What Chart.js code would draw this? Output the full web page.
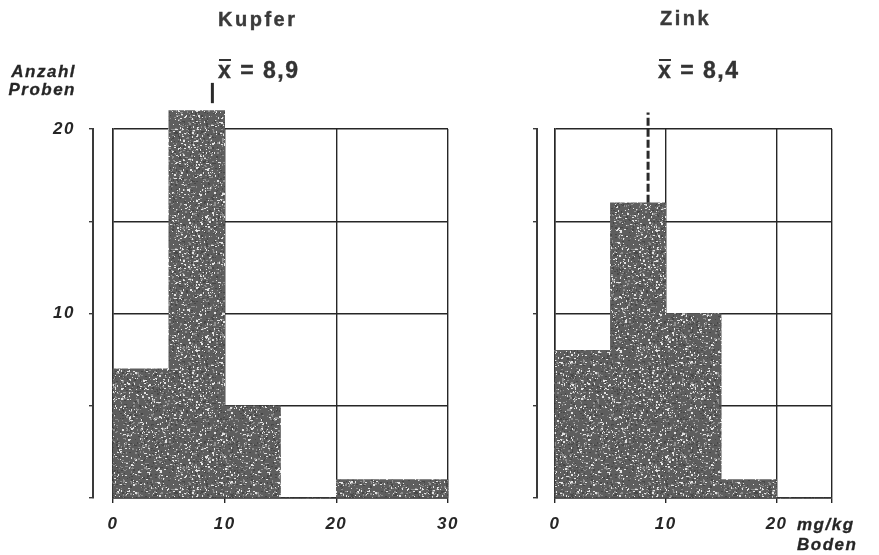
<!DOCTYPE html>
<html>
<head>
<meta charset="utf-8">
<script src="https://cdn.jsdelivr.net/npm/chart.js@4.4.1/dist/chart.umd.min.js"></script>
<style>
  body { margin: 0; width: 879px; height: 555px; background: #fff; position: relative; overflow: hidden;
         font-family: "Liberation Sans", Arial, sans-serif; color: #262626; }
  canvas { position: absolute; top: 0; }
  .lbl { position: absolute; font-weight: bold; white-space: nowrap; line-height: 1; }
  .title { font-size: 20px; letter-spacing: 2.5px; color: #3a3a3a; -webkit-text-stroke: 0.4px #3a3a3a; }
  .mean { font-size: 23px; letter-spacing: 1.5px; color: #333; -webkit-text-stroke: 0.4px #333; }
  .ital { font-style: italic; font-size: 17px; letter-spacing: 1.5px; -webkit-text-stroke: 0.3px #262626; }
  .xbar { position: relative; }
  .xbar::before { content: ""; position: absolute; left: 1px; right: 1px; top: 2px; height: 2px; background: currentColor; }
</style>
</head>
<body>
<canvas id="kupfer" width="470" height="555" style="left:0"></canvas>
<canvas id="zink" width="419" height="555" style="left:460px"></canvas>

<div class="lbl title" style="left:218px; top:9px">Kupfer</div>
<div class="lbl title" style="left:660px; top:8px">Zink</div>
<div class="lbl mean" style="left:218px; top:59px"><span class="xbar">x</span> = 8,9</div>
<div class="lbl mean" style="left:658px; top:59px"><span class="xbar">x</span> = 8,4</div>
<div class="lbl ital" style="right:803px; top:63px; text-align:right">Anzahl</div>
<div class="lbl ital" style="right:803px; top:81px; text-align:right">Proben</div>
<div class="lbl ital" style="left:797px; top:516px">mg/kg</div>
<div class="lbl ital" style="left:797px; top:536px">Boden</div>

<script>
// Klassen (Untergrenze, Breite 5 mg/kg) und Anzahl Proben je Klasse
const kupferClasses = [0, 5, 10, 15, 20, 25];
const kupferCounts = [7, 21, 5, 0, 1, 1];
const zinkClasses = [0, 5, 10, 15, 20];
const zinkCounts = [8, 16, 10, 1, 0];

// Mittelwerte
const kupferMean = 8.9;
const zinkMean = 8.4;

// Achsenteilung
const kupferXTicks = [0, 10, 20, 30];
const zinkXTicks = [0, 10, 20, 25];
const yTicks = [0, 5, 10, 15, 20];
const yLabels = [10, 20];

const classWidth = 5;
const lineColor = '#262626';
const tickFont = { family: 'Liberation Sans', size: 17, style: 'italic', weight: 'bold' };

// Raster für die Balkenfüllung (grobe Punktierung)
function speckle() {
  const c = document.createElement('canvas');
  c.width = c.height = 120;
  const g = c.getContext('2d');
  g.fillStyle = '#5e5e5e';
  g.fillRect(0, 0, 120, 120);
  let s = 11;
  const next = () => (s = (s * 16807) % 2147483647) / 2147483647;
  for (let i = 0; i < 2600; i++) {
    const x = Math.floor(next() * 120);
    const y = Math.floor(next() * 120);
    const v = next();
    g.fillStyle = v < 0.35 ? '#484848' : v < 0.7 ? '#8e8e8e' : '#e4e4e4';
    g.fillRect(x, y, next() < 0.4 ? 2 : 1, next() < 0.3 ? 2 : 1);
  }
  return g.createPattern(c, 'repeat');
}
const fill = speckle();

const spacing = {
  id: 'spacing',
  beforeDraw(chart) { chart.ctx.letterSpacing = '1.5px'; }
};

function histogram(id, classes, counts, xTicks, mean, meanFrom, meanTo, dashed, cfg) {
  return new Chart(document.getElementById(id), {
    type: 'bar',
    data: {
      datasets: [
        {
          type: 'line',
          data: [{ x: mean, y: meanFrom }, { x: mean, y: meanTo }],
          borderColor: '#2a2a2a',
          borderWidth: 3,
          borderDash: dashed ? [8, 3] : [],
          pointRadius: 0,
          clip: false,
          order: 0
        },
        {
          data: classes.map((c, i) => ({ x: c + classWidth / 2, y: counts[i] })),
          backgroundColor: fill,
          borderWidth: 0,
          barPercentage: 1,
          categoryPercentage: 1,
          clip: false,
          order: 1
        }
      ]
    },
    options: {
      responsive: false,
      animation: false,
      events: [],
      layout: { padding: { top: 129, right: cfg.right, bottom: 17, left: 0 } },
      plugins: { legend: { display: false }, tooltip: { enabled: false } },
      scales: {
        x: {
          type: 'linear',
          min: 0,
          max: xTicks[xTicks.length - 1],
          offset: false,
          afterBuildTicks: s => { s.ticks = xTicks.map(v => ({ value: v })); },
          afterFit: s => { s.height = 40; },
          ticks: {
            autoSkip: false, maxRotation: 0, padding: 11, color: '#262626', font: tickFont,
            callback: v => (v % 10 === 0 ? String(v) : '')
          },
          grid: { color: lineColor, lineWidth: 1.4, tickLength: 5, offset: false },
          border: { color: lineColor, width: 1.5 }
        },
        y: {
          position: 'left',
          weight: 1,
          min: 0,
          max: 20,
          afterBuildTicks: s => { s.ticks = yTicks.map(v => ({ value: v })); },
          afterFit: s => { s.width = cfg.bracket; },
          ticks: {
            padding: 14, color: '#262626', font: tickFont,
            callback: v => (cfg.labels && yLabels.includes(v) ? String(v) : '')
          },
          grid: { drawOnChartArea: false, tickLength: 4, color: '#3a3a3a', lineWidth: 1.4 },
          border: { color: '#3a3a3a', width: 2 }
        },
        yGrid: {
          axis: 'y',
          position: 'left',
          weight: 0,
          min: 0,
          max: 20,
          afterBuildTicks: s => { s.ticks = yTicks.map(v => ({ value: v })); },
          afterFit: s => { s.width = cfg.gap; },
          ticks: { display: false },
          grid: { color: lineColor, lineWidth: 1.4, drawTicks: false },
          border: { color: lineColor, width: 1.5 }
        }
      }
    },
    plugins: [spacing]
  });
}

histogram('kupfer', kupferClasses, kupferCounts, kupferXTicks, kupferMean, 21.4, 22.5, false,
  { right: 22, bracket: 93, gap: 20, labels: true });
histogram('zink', zinkClasses, zinkCounts, zinkXTicks, zinkMean, 16, 20.9, true,
  { right: 47, bracket: 77, gap: 18, labels: false });
</script>
</body>
</html>
